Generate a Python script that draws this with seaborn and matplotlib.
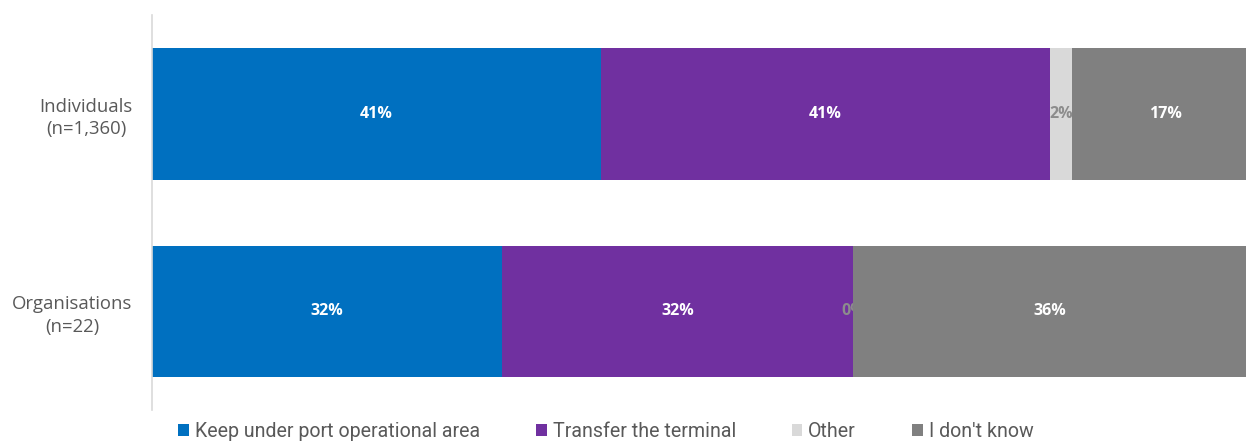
import matplotlib
matplotlib.use("Agg")
import matplotlib.pyplot as plt
from matplotlib.patches import Patch
import numpy as np
import pandas as pd
import seaborn as sns

groups = ["Individuals\n(n=1,360)", "Organisations\n(n=22)"]
series = ["Keep under port operational area", "Transfer the terminal", "Other", "I don't know"]
keep_port = [41, 32]
transfer = [41, 32]
other = [2, 0]
dont_know = [17, 36]

colors = ["#0070C0", "#7030A0", "#D9D9D9", "#808080"]
label_colors = ["white", "white", "#8C8C8C", "white"]

sns.set_theme(style="white")
plt.rcParams["font.family"] = ["Open Sans", "DejaVu Sans"]

df = pd.DataFrame({"group": groups, series[0]: keep_port, series[1]: transfer,
                   series[2]: other, series[3]: dont_know})

fig = plt.figure(figsize=(12.46, 4.42), dpi=100)
ax = fig.add_axes([0.122, 0.072, 0.879, 0.894])

left = np.zeros(len(groups))
for i, name in enumerate(series):
    vals = df[name].to_numpy(dtype=float)
    sns.barplot(x=vals, y=df["group"], orient="h", color=colors[i], width=0.665,
                left=left, ax=ax, zorder=2 + i, saturation=1, linewidth=0)
    for j, v in enumerate(vals):
        ax.text(left[j] + v / 2, j, f"{int(v)}%", ha="center", va="center",
                color=label_colors[i], fontsize=11.5, fontweight="bold",
                zorder=2.5 + i)
    left += vals

ax.set_xlim(0, 100)
ax.set_ylim(1.5, -0.5)
ax.set_xlabel("")
ax.set_ylabel("")
ax.set_xticks([])
ax.tick_params(axis="y", length=0, pad=14, labelsize=13.3, labelcolor="#595959")
for lab in ax.get_yticklabels():
    lab.set_multialignment("center")
    lab.set_linespacing(1.3)
for s in ["top", "right", "bottom"]:
    ax.spines[s].set_visible(False)
ax.spines["left"].set_color("#D9D9D9")
ax.spines["left"].set_linewidth(1.2)

handles = [Patch(facecolor=c, edgecolor="none") for c in colors]
fig.legend(handles, series, loc="center left", bbox_to_anchor=(0.129, 0.024),
           ncol=4, frameon=False, handlelength=0.55, handleheight=0.55,
           handletextpad=0.3, columnspacing=2.85,
           prop={"family": ["Roboto", "DejaVu Sans"], "size": 14.1},
           labelcolor="#595959")

fig.savefig("out.png", dpi=100)
